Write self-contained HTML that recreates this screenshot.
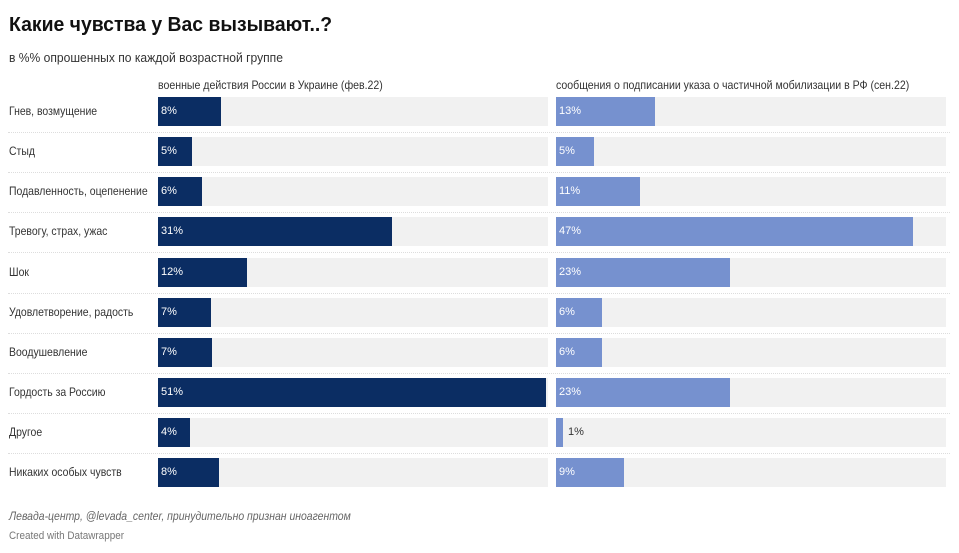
<!DOCTYPE html>
<html><head><meta charset="utf-8"><style>
body{margin:0;width:959px;height:553px;background:#fff;font-family:"Liberation Sans",sans-serif;position:relative;overflow:hidden;color:#222}
.a{position:absolute;white-space:nowrap;transform-origin:0 0}
.bg{position:absolute;background:#f1f1f1;height:29px}
.b{position:absolute;height:29px;font-size:11px;line-height:29px;color:#fff;padding-left:3px;box-sizing:border-box;white-space:nowrap}
.l{background:#0b2d63}.r{background:#7691cf}
.lab{position:absolute;left:9px;font-size:12px;line-height:29px;color:#333;white-space:nowrap;transform:scaleX(0.87);transform-origin:0 0}
.sep{position:absolute;left:8px;width:942px;border-top:1px dotted #ddd;height:0}
</style></head><body>
<div class="a" style="left:9px;top:14px;font-size:20px;font-weight:bold;color:#111;transform:scaleX(0.97)">Какие чувства у Вас вызывают..?</div>
<div class="a" style="left:9px;top:50px;font-size:13px;color:#333;transform:scaleX(0.93)">в %% опрошенных по каждой возрастной группе</div>
<div class="a" style="left:158px;top:78px;font-size:12px;color:#333;transform:scaleX(0.88)">военные действия России в Украине (фев.22)</div>
<div class="a" style="left:556px;top:78px;font-size:12px;color:#333;transform:scaleX(0.88)">сообщения о подписании указа о частичной мобилизации в РФ (сен.22)</div>
<div id="c"></div>
<div class="a" style="left:9px;top:509px;font-size:12px;font-style:italic;color:#666;transform:scaleX(0.87)">Левада-центр, @levada_center, принудительно признан иноагентом</div>
<div class="a" style="left:9px;top:530px;font-size:11px;color:#777;transform:scaleX(0.9)">Created with Datawrapper</div>
<script>
var d=[["Гнев, возмущение",8,221,13,655],["Стыд",5,192,5,594],["Подавленность, оцепенение",6,202,11,640],["Тревогу, страх, ужас",31,392,47,913],["Шок",12,247,23,730],["Удовлетворение, радость",7,211,6,602],["Воодушевление",7,212,6,602],["Гордость за Россию",51,546,23,730],["Другое",4,190,1,563],["Никаких особых чувств",8,219,9,624]];
var h="";
d.forEach(function(r,i){var y=97+i*40.15;
h+='<div class="lab" style="top:'+y+'px">'+r[0]+'</div>';
h+='<div class="bg" style="left:158px;width:390px;top:'+y+'px"></div>';
h+='<div class="bg" style="left:556px;width:390px;top:'+y+'px"></div>';
h+='<div class="b l" style="left:158px;width:'+(r[2]-158)+'px;top:'+y+'px">'+r[1]+'%</div>';
if(r[3]<3){h+='<div class="b r" style="left:556px;width:'+(r[4]-556)+'px;top:'+y+'px"></div><div class="a" style="left:568px;top:'+y+'px;font-size:11px;line-height:29px;color:#333">'+r[3]+'%</div>';}
else h+='<div class="b r" style="left:556px;width:'+(r[4]-556)+'px;top:'+y+'px">'+r[3]+'%</div>';
if(i<9)h+='<div class="sep" style="top:'+(y+35)+'px"></div>';});
document.getElementById("c").innerHTML=h;
</script>
</body></html>
